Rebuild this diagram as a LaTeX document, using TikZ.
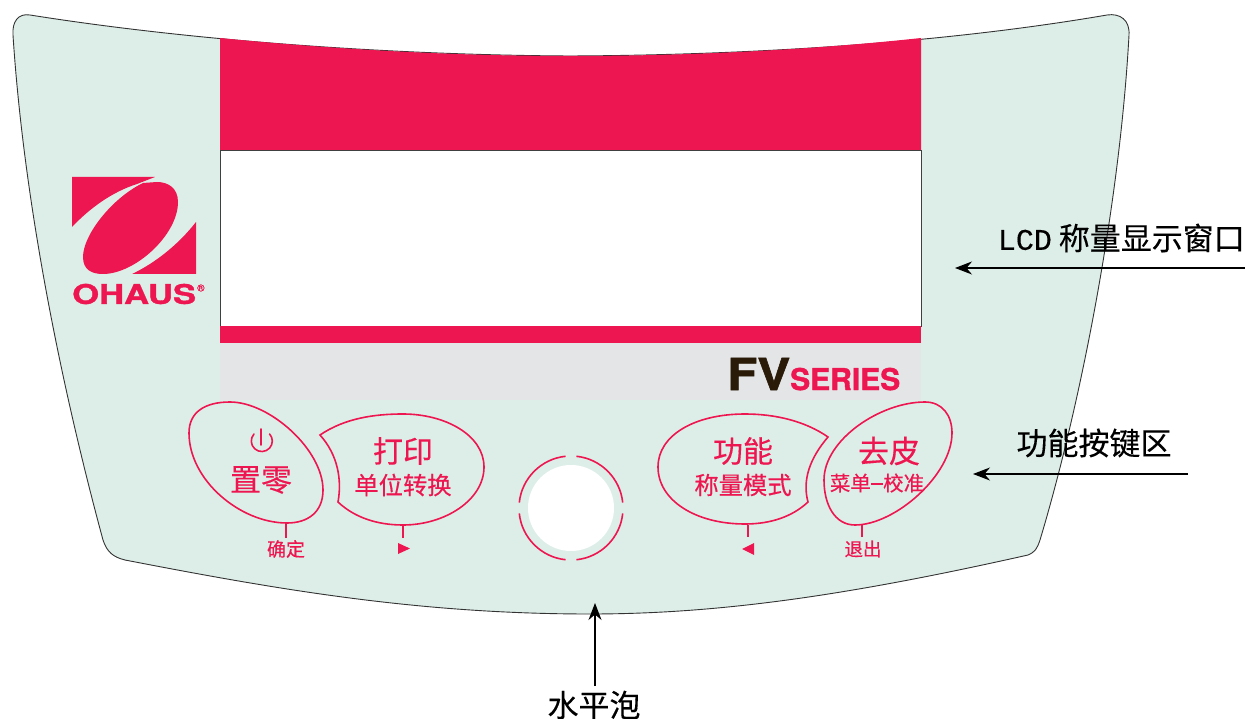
\documentclass[tikz,border=0pt]{standalone}
\usepackage{fontspec}
\setmainfont{Noto Sans CJK SC}
\newfontfamily\keyfont[FakeBold=0.35]{Noto Sans CJK SC}
\newfontfamily\calloutfont[FakeBold=0.25]{Noto Sans CJK SC}
\newfontfamily\lcdfont[FakeBold=0.4]{Liberation Mono}
\newfontfamily\logofont[FakeBold=1.2]{TeX Gyre Heros}
\usetikzlibrary{arrows.meta}
\definecolor{panelgreen}{HTML}{DDEEE8}
\definecolor{ohausred}{HTML}{EE1650}
\definecolor{bandgray}{HTML}{E4E5E7}
\definecolor{fvdark}{HTML}{2A1A08}
\newcommand{\sz}[1]{\fontsize{#1}{#1}\selectfont}
\tikzset{
  keyline/.style={draw=ohausred,line width=1.6pt},
  keytext/.style={text=ohausred,inner sep=0pt,font=\keyfont},
  callout/.style={text=black,inner sep=0pt,font=\calloutfont},
  pointer/.style={-{Stealth[length=17pt,width=13pt]},line width=1.1pt}
}

\begin{document}
\begin{tikzpicture}[x=1pt,y=-1pt]
   \useasboundingbox (0,0) rectangle (1245,719);
   % panel
   \draw[fill=panelgreen,draw=black!80,line width=0.9pt]
    (30,15) .. controls (200,42) and (400,55) .. (570,56)
    .. controls (760,55) and (950,42) .. (1107,15)
    .. controls (1120,13) and (1130,20) .. (1129,35)
    .. controls (1120,200) and (1082,400) .. (1040,540)
    .. controls (1037,549) and (1035,552) .. (1028,555)
    .. controls (850,595) and (720,614) .. (590,614)
    .. controls (420,614) and (280,590) .. (125,560)
    .. controls (113,557) and (107,552) .. (103,540)
    .. controls (57,370) and (23,190) .. (13,35)
    .. controls (12,22) and (18,13) .. (30,15) -- cycle;
   % display
   \fill[bandgray] (220,343) rectangle (921,400);
   \fill[ohausred] (220,38) .. controls (340,50) and (460,56) .. (570,56)
    .. controls (690,56) and (810,50) .. (921,38) -- (921,150) -- (220,150) -- cycle;
   \draw[fill=white,draw=black!75,line width=0.8pt] (220,150) rectangle (921,326);
   \fill[ohausred] (220,326) rectangle (921,343);
   % logo
   \fill[ohausred] (72,177) -- (155,177) -- (137,184)
    .. controls (112,192) and (90,208) .. (72,227) -- cycle;
   \fill[ohausred] (196,222) -- (196,274) -- (132,274)
    .. controls (155,263) and (178,245) .. (196,222) -- cycle;
   \fill[ohausred] (83,257) .. controls (83,270) and (92,274) .. (103,274)
    .. controls (135,274) and (178,235) .. (178,202)
    .. controls (178,188) and (168,182) .. (157,182)
    -- (143,183) .. controls (112,198) and (83,235) .. (83,257) -- cycle;
   \node[keytext,anchor=west,xscale=1.28] (logo_name) at (72,294)
    {\logofont\bfseries\sz{27}OHAUS};
   \node[keytext,anchor=west] (logo_reg) at (197,288) {\logofont\sz{10}®};
   \node[text=fvdark,inner sep=0pt,anchor=base west,xscale=1.12] (fv_mark) at (727,390)
    {\logofont\bfseries\sz{44}FV};
   \node[keytext,anchor=base west] (fv_series) at (790,390)
    {\logofont\bfseries\sz{30}SERIES};
   % keys
   \draw[keyline] (189,433) .. controls (189,412) and (205,402) .. (230,402)
    .. controls (270,402) and (323,450) .. (323,490)
    .. controls (323,512) and (308,523) .. (287,523)
    .. controls (240,523) and (189,480) .. (189,433) -- cycle;
   \draw[keyline] (320,435) .. controls (345,418) and (375,414) .. (403,414)
    .. controls (445,414) and (484,435) .. (484,467)
    .. controls (484,500) and (445,525) .. (403,525)
    .. controls (378,525) and (355,518) .. (338,502)
    .. controls (342,480) and (338,455) .. (320,435) -- cycle;
   \draw[keyline] (828,437) .. controls (805,421) and (775,414) .. (745,414)
    .. controls (695,414) and (658,435) .. (658,467)
    .. controls (658,500) and (695,524) .. (745,524)
    .. controls (770,524) and (792,517) .. (808,502)
    .. controls (802,480) and (810,458) .. (828,437) -- cycle;
   \draw[keyline] (824,480) .. controls (824,440) and (880,402) .. (925,402)
    .. controls (942,402) and (952,415) .. (952,433)
    .. controls (952,475) and (895,525) .. (855,525)
    .. controls (835,525) and (824,505) .. (824,480) -- cycle;
   \node[keytext] (key_zero) at (261,480) {\sz{31}置零};
   \node[keytext] (key_print) at (403,451) {\sz{30}打印};
   \node[keytext] (key_unit) at (403,485) {\sz{24.3}单位转换};
   \node[keytext] (key_func) at (743,451) {\sz{30}功能};
   \node[keytext] (key_mode) at (743,485) {\sz{24.3}称量模式};
   \node[keytext] (key_tare) at (889,451) {\sz{31}去皮};
   \node[keytext] (key_menu) at (877,483) {\sz{20.5}菜单\rule[0.3em]{0.6em}{1.8pt}校准};
   \node[keytext] (key_ok) at (286,549) {\sz{19}确定};
   \node[keytext] (key_exit) at (863,549) {\sz{18.5}退出};
   % power sign
   \draw[keyline,line cap=round] (261,429) -- (261,445);
   \draw[keyline,line cap=round] (254,434) arc[start angle=222,end angle=-42,radius=10.5];
   % ticks
   \draw[keyline] (286,523) -- (286,538);
   \draw[keyline] (403,525) -- (403,538);
   \draw[keyline] (748,525) -- (748,537);
   \draw[keyline] (862,524) -- (862,537);
   \fill[ohausred] (398,543) -- (410,548.5) -- (398,554) -- cycle;
   \fill[ohausred] (754,543) -- (742,549) -- (754,555) -- cycle;
   % bubble
   \fill[white] (571,508) circle[radius=43];
   \foreach \a in {0,90,180,270}
     \draw[keyline] (571,508) ++(\a+6:52) arc[start angle=\a+6,end angle=\a+84,radius=52];
   % callouts
   \node[callout,anchor=east] (lbl_lcd) at (1245,238) {\sz{31}{\lcdfont\sz{30}LCD} 称量显示窗口};
   \node[callout] (lbl_keys) at (1094,443) {\sz{31}功能按键区};
   \node[callout] (lbl_bubble) at (594,705) {\sz{31}水平泡};
   \coordinate (lcd_tail) at (1245,268);
   \coordinate (lcd_tip) at (955,268);
   \coordinate (keys_tail) at (1188,474);
   \coordinate (keys_tip) at (973,474);
   \coordinate (bubble_tail) at (595,686);
   \coordinate (bubble_tip) at (595,603);
   \draw[pointer] (lcd_tail) -- (lcd_tip);
   \draw[pointer] (keys_tail) -- (keys_tip);
   \draw[pointer] (bubble_tail) -- (bubble_tip);
\end{tikzpicture}
\end{document}
